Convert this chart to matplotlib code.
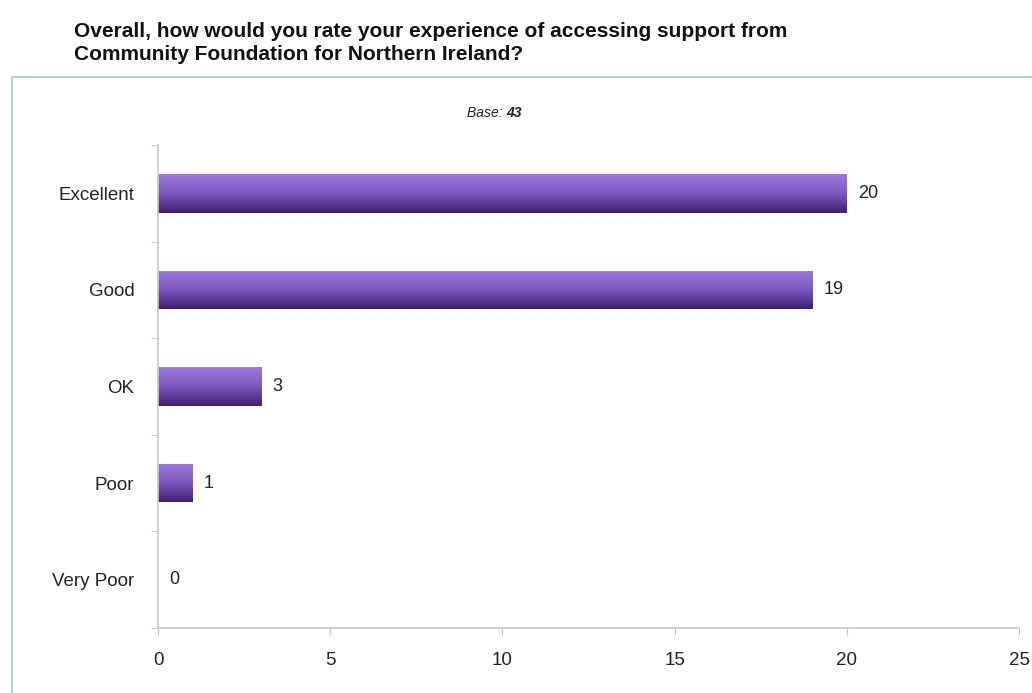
import numpy as np
import matplotlib.pyplot as plt
from matplotlib.colors import LinearSegmentedColormap
from matplotlib.patches import Rectangle

categories = ['Excellent', 'Good', 'OK', 'Poor', 'Very Poor']
counts = [20, 19, 3, 1, 0]
base = 43
xticks = [0, 5, 10, 15, 20, 25]

plt.rcParams['font.family'] = ['Liberation Sans', 'DejaVu Sans']

W, H = 1032, 693
fig = plt.figure(figsize=(W / 100, H / 100), dpi=100)

# pale blue frame around the chart area
frame = Rectangle((12 / W, -0.01), 1.1, 1 - 77 / H + 0.01, transform=fig.transFigure,
                  fill=False, edgecolor='#b8cce4', linewidth=1.5)
fig.add_artist(frame)

fig.text(74 / W, 1 - 43 / H,
         'Overall, how would you rate your experience of accessing support from\n'
         'Community Foundation for Northern Ireland?',
         fontsize=15, fontweight='bold', va='center', ha='left', linespacing=1.3,
         color='#111111')

ax = fig.add_axes([158 / W, 1 - 628 / H, (1019 - 158) / W, (628 - 145) / H])

y = np.arange(len(categories))
bar_h = 0.4
cmap = LinearSegmentedColormap.from_list('purp', ['#9c78dc', '#7c58c2', '#3f1f6c'])
grad = np.linspace(0, 1, 64).reshape(-1, 1)

bars = ax.barh(y, counts, height=bar_h, color='none', edgecolor='none')
for b, v in zip(bars, counts):
    if v <= 0:
        continue
    x0, y0 = b.get_x(), b.get_y()
    im = ax.imshow(grad, cmap=cmap, aspect='auto', interpolation='bilinear',
                   extent=(x0, x0 + b.get_width(), y0 + b.get_height(), y0), zorder=2)
    im.set_clip_path(b)

for yi, v in zip(y, counts):
    ax.text(v + 0.33, yi, str(v), va='center', ha='left', fontsize=13, color='#222222')

ax.set_xlim(0, 25)
ax.set_ylim(len(categories) - 0.5, -0.5)
ax.set_xticks(xticks)
ax.set_xticklabels([str(t) for t in xticks], fontsize=13.5, color='#222222')
ax.set_yticks(y)
ax.set_yticklabels(categories, fontsize=13.5, color='#222222')
ax.set_yticks(np.arange(len(categories) + 1) - 0.5, minor=True)
ax.tick_params(axis='y', which='major', length=0, pad=17)
ax.tick_params(axis='y', which='minor', length=5, color='#c0c0c0', direction='out')
ax.tick_params(axis='x', length=5, color='#c0c0c0', direction='out', pad=12)

for s in ['top', 'right']:
    ax.spines[s].set_visible(False)
for s in ['left', 'bottom']:
    ax.spines[s].set_color('#c8c8c8')
    ax.spines[s].set_linewidth(1.2)

# "Base: 43" note above the bars
base_y = 1 + (145 - 113) / 483
ax.text(0.405, base_y, 'Base: ', transform=ax.transAxes, ha='right', va='center',
        fontsize=10, style='italic', color='#222222')
ax.text(0.405, base_y, str(base), transform=ax.transAxes, ha='left', va='center',
        fontsize=10, style='italic', fontweight='bold', color='#222222')

fig.savefig('out.png', dpi=100)
